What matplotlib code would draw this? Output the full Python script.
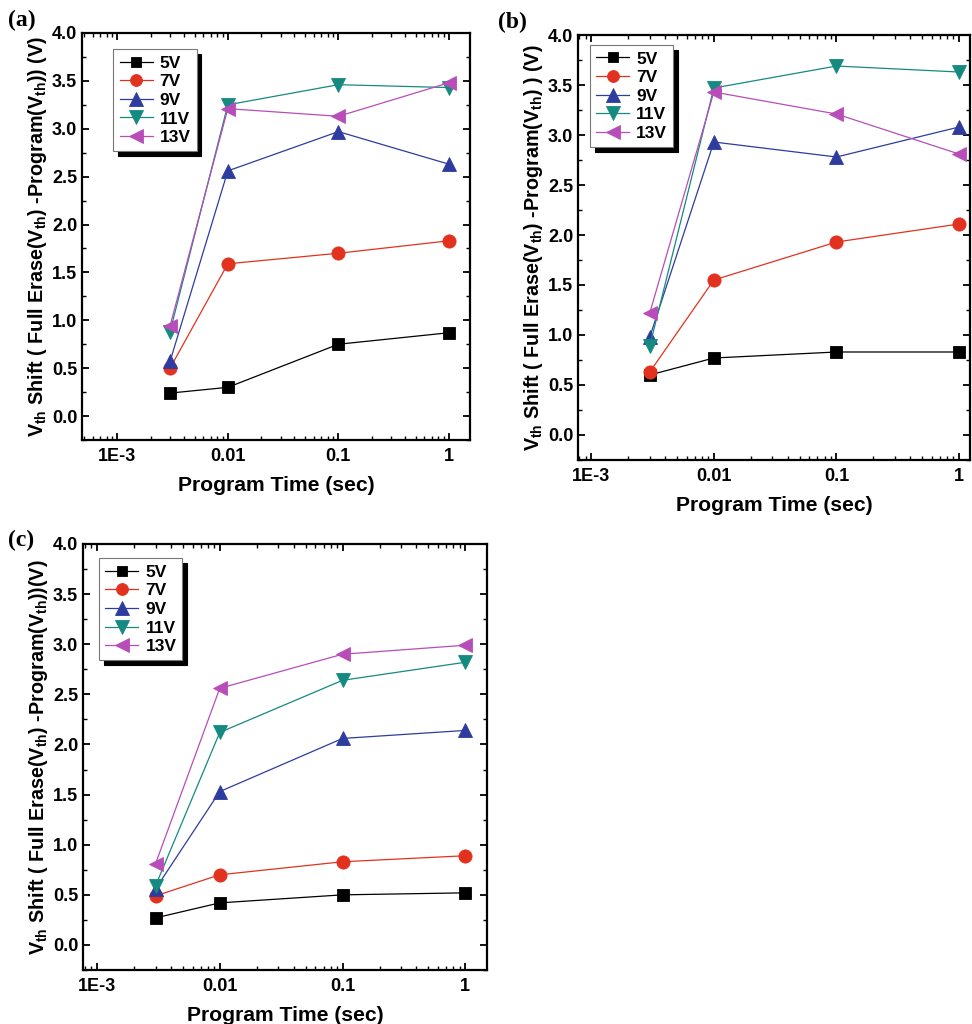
import numpy as np
import matplotlib
matplotlib.use('Agg')
import matplotlib.pyplot as plt
from matplotlib.ticker import FixedLocator, LogLocator, MultipleLocator, FuncFormatter

plt.rcParams['font.family'] = 'Liberation Sans'
plt.rcParams['font.weight'] = 'bold'
plt.rcParams['mathtext.fontset'] = 'custom'
plt.rcParams['mathtext.rm'] = 'Liberation Sans:bold'
plt.rcParams['mathtext.it'] = 'Liberation Sans:bold'
plt.rcParams['mathtext.bf'] = 'Liberation Sans:bold'

# program time (sec)
times = [0.003, 0.01, 0.1, 1.0]
labels = ['5V', '7V', '9V', '11V', '13V']

# panel (a)
a_5v = [0.24, 0.30, 0.75, 0.87]
a_7v = [0.50, 1.59, 1.70, 1.83]
a_9v = [0.57, 2.56, 2.97, 2.63]
a_11v = [0.88, 3.25, 3.46, 3.43]
a_13v = [0.94, 3.21, 3.13, 3.48]

# panel (b)
b_5v = [0.60, 0.77, 0.83, 0.83]
b_7v = [0.63, 1.55, 1.93, 2.11]
b_9v = [0.98, 2.93, 2.78, 3.08]
b_11v = [0.89, 3.47, 3.69, 3.63]
b_13v = [1.22, 3.43, 3.21, 2.81]

# panel (c)
c_5v = [0.27, 0.42, 0.50, 0.52]
c_7v = [0.49, 0.70, 0.83, 0.89]
c_9v = [0.56, 1.53, 2.06, 2.14]
c_11v = [0.59, 2.12, 2.64, 2.82]
c_13v = [0.81, 2.56, 2.90, 2.99]

colors = ['black', '#e2321f', '#2d3c9e', '#158a80', '#b84db9']
markers = ['s', 'o', '^', 'v', '<']
msizes = [8.5, 9.5, 10.5, 10.5, 10.5]

ylabels = [
    r'V$_{\rm th}$ Shift ( Full Erase(V$_{\rm th}$) -Program(V$_{\rm th}$)) (V)',
    r'V$_{\rm th}$ Shift ( Full Erase(V$_{\rm th}$) -Program(V$_{\rm th}$) ) (V)',
    r'V$_{\rm th}$ Shift ( Full Erase(V$_{\rm th}$) -Program(V$_{\rm th}$))(V)',
]

fig = plt.figure(figsize=(9.72, 10.24), dpi=100)

# [left, bottom, width, height], xlim, legend anchor
panels = [
    ('(a)', [a_5v, a_7v, a_9v, a_11v, a_13v], [0.0844, 0.5703, 0.3991, 0.3975], (4.8e-4, 1.55), (0.072, 0.968)),
    ('(b)', [b_5v, b_7v, b_9v, b_11v, b_13v], [0.5947, 0.5508, 0.4033, 0.4150], (7.8e-4, 1.23), (0.022, 0.984)),
    ('(c)', [c_5v, c_7v, c_9v, c_11v, c_13v], [0.0854, 0.0527, 0.4156, 0.4161], (7.7e-4, 1.5), (0.032, 0.974)),
]
tag_pos = [(0.008, 0.99), (0.512, 0.988), (0.008, 0.483)]

for i, (tag, series, rect, xlim, lpos) in enumerate(panels):
    ax = fig.add_axes(rect)
    for vals, lab, c, m, ms in zip(series, labels, colors, markers, msizes):
        ax.plot(times, vals, color=c, marker=m, markersize=ms, lw=0.9,
                label=lab, markeredgewidth=0.6, markeredgecolor=c)
    ax.set_xscale('log')
    ax.set_xlim(*xlim)
    ax.set_ylim(-0.25, 4.0)
    ax.yaxis.set_major_locator(MultipleLocator(0.5))
    ax.yaxis.set_minor_locator(MultipleLocator(0.25))
    ax.yaxis.set_major_formatter(FuncFormatter(lambda v, p: f'{v:.1f}'))
    ax.xaxis.set_major_locator(FixedLocator([1e-3, 1e-2, 1e-1, 1]))
    ax.xaxis.set_minor_locator(LogLocator(base=10, subs=np.arange(2, 10), numticks=20))
    ax.xaxis.set_major_formatter(FuncFormatter(
        lambda v, p: {1e-3: '1E-3', 1e-2: '0.01', 1e-1: '0.1', 1: '1'}.get(round(v, 6), '')))
    ax.tick_params(which='both', direction='in', top=True, right=True, labelsize=13)
    ax.tick_params(which='major', length=5, width=1.3)
    ax.tick_params(which='minor', length=3, width=1.0)
    ax.tick_params(axis='x', pad=6)
    for sp in ax.spines.values():
        sp.set_linewidth(1.6)
    ax.set_xlabel('Program Time (sec)', fontsize=15.2, fontweight='bold', labelpad=8)
    ax.set_ylabel(ylabels[i], fontsize=14.2, fontweight='bold', labelpad=2)

    leg = ax.legend(loc='upper left', bbox_to_anchor=lpos, fontsize=12.5,
                    handlelength=1.9, handletextpad=0.4, labelspacing=0.2,
                    borderpad=0.35, borderaxespad=0.2, fancybox=False, framealpha=1,
                    markerscale=0.9,
                    shadow={'color': 'black', 'alpha': 1, 'ox': 3.5, 'oy': -3.5})
    leg.get_frame().set_edgecolor('#777777')
    leg.get_frame().set_linewidth(0.8)

    fig.text(*tag_pos[i], tag, family='Liberation Serif', fontweight='bold',
             fontsize=17, ha='left', va='top')

fig.savefig('out.png', dpi=100)
